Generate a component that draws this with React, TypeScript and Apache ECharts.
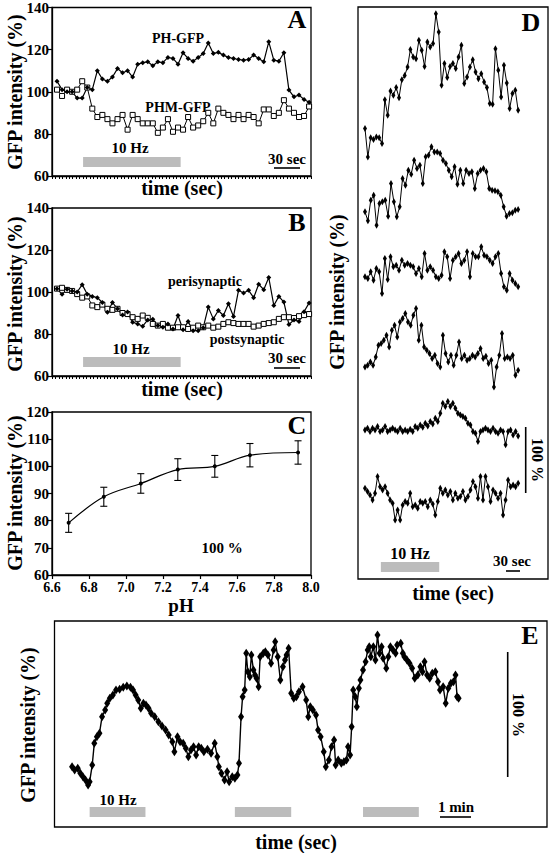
import React, { useEffect, useRef } from "react";
import * as echarts from "echarts";

const FONT = '"Liberation Serif", "DejaVu Serif", "Times New Roman", serif';

// ---------- Panel A (GFP intensity %, sampled every ~5.84 s) ----------
const phGfp = [105, 101, 100, 100, 97, 97, 102, 101, 110, 106, 105, 107, 111, 109, 110, 107, 113, 113.8, 114.2, 112.3, 114.2, 113.8, 116.3, 115.8, 113.1, 118.5, 115.8, 114.5, 116.3, 118.2, 123.2, 118.2, 118.7, 117.4, 116.3, 115.8, 115.3, 115, 115.3, 117.4, 115.8, 114.2, 123.7, 115, 114.5, 118.5, 100.8, 97.6, 98.4, 96.3, 95];
const phmGfp = [101, 98, 101, 100, 101, 105, 102, 92, 88, 89, 87, 85, 87, 89, 82, 89, 87, 85, 85, 85, 80.5, 83, 87, 81, 83, 82, 88, 83, 84, 86, 90, 85, 92, 90, 89, 87, 89, 87, 89, 88, 85, 91.6, 91.6, 88.5, 90, 96, 92, 90, 88, 88.5, 93];

// ---------- Panel B ----------
const perisynaptic = [101.6, 98.9, 101.3, 100.5, 100, 103.5, 98.9, 97.9, 97.3, 95, 90.4, 95, 92, 89, 90.5, 85.6, 84.8, 83.7, 86.7, 87, 84, 83.2, 84.8, 82.4, 88.8, 82, 85.9, 81.6, 81.6, 83, 92.8, 87.2, 91.2, 88.8, 94.4, 88.3, 100.8, 99.5, 100.8, 97.3, 103.7, 101.1, 106.9, 93.6, 97.9, 95.2, 84.5, 86.7, 86, 90.6, 94.8];
const postsynaptic = [101.6, 102, 101, 100.5, 99, 97.3, 97.9, 93.6, 92.8, 94, 92, 91.5, 92, 90, 89.5, 88, 87.2, 88.8, 87.7, 84.8, 84, 84.8, 83, 83, 83.2, 83.2, 82.4, 83, 84, 83.2, 84, 83, 83.5, 84.8, 85.6, 85.2, 84.8, 84.8, 84.8, 83.5, 84, 84.8, 85.2, 85.6, 87.2, 88, 88, 87.6, 88.5, 89, 89.5];
const SAMPLE_START_AB = 5.8;
const SAMPLE_STEP_AB = 5.84;
const stimAB = [36, 149]; // seconds
const stimBarAB = [64.3, 69]; // y extent of grey bar

// ---------- Panel C ----------
const cPH = [6.69, 6.88, 7.08, 7.28, 7.48, 7.67, 7.93];
const cMean = [79.2, 88.8, 93.7, 98.8, 100, 104.1, 105.1];
const cErr = [3.5, 3.5, 3.6, 4, 4, 4.3, 4.3];

// ---------- Panel D (six traces, % with baseline 100) ----------
const dTrace1 = [117.7, 74.7, 104, 101, 105, 104, 95, 161.6, 137.9, 174.7, 168.2, 179.8, 164.6, 191.9, 198, 211, 237.4, 226.3, 223.7, 251.5, 236.4, 212, 249, 241.4, 246.5, 291.9, 264.1, 183.3, 216.2, 195, 212, 216.2, 208.6, 226.3, 244, 185.9, 196, 211, 222.2, 203.5, 193.4, 201, 188.4, 179.8, 155.6, 154.5, 238.9, 206, 165.7, 213.6, 186.9, 148, 170.7, 175.8, 145.5];
const dTrace2 = [102.5, 88.9, 120.2, 127.8, 82.3, 115.2, 117.7, 120.2, 96, 145.5, 117.7, 95, 110.1, 153, 142.9, 165.7, 159.6, 180.8, 168.2, 173.2, 145.5, 185.9, 188.4, 201, 193.4, 193.4, 190.9, 180.8, 175.8, 165.7, 155.6, 170.7, 144.4, 165.7, 145.5, 165.7, 160.6, 163.1, 137.9, 160.6, 165.7, 168.2, 163.1, 137.9, 135.4, 134.3, 132.8, 127.8, 110.1, 96, 100, 101, 105, 106];
const dTrace3 = [100, 97.5, 107.6, 94.9, 112.6, 107.6, 74.7, 127.8, 96, 130.3, 115.2, 117.7, 110.1, 125.3, 117.7, 120.2, 117.7, 115.2, 105, 112.6, 100, 135.4, 110.1, 115.2, 110.1, 100, 97.5, 102.5, 137.9, 130.3, 97.5, 125.3, 130.3, 135.4, 120.2, 125.3, 137.9, 100, 135.4, 130.3, 130.3, 145.5, 132.8, 130.3, 125.3, 120.2, 130.3, 135.4, 105, 84.8, 79.8, 105, 94.9, 89.9, 84.8];
const dTrace4 = [97.5, 100, 105, 100, 112.6, 130.3, 132.8, 137.9, 145.5, 127.8, 153, 160.6, 142.9, 165.7, 170.7, 178.3, 165.7, 160.6, 175.8, 185.9, 137.9, 160.6, 127.8, 122.7, 117.7, 110.1, 115.2, 102.5, 97.5, 145.5, 117.7, 105, 115.2, 100, 115.2, 135.4, 110.1, 115.2, 107.6, 110.1, 115.2, 112.6, 117.7, 125.3, 110.1, 113.6, 102.5, 107.6, 67.2, 97.5, 115.2, 148, 110.1, 112.6, 110.1, 115.2, 84.8, 92.4];
const dTrace5 = [100, 102.5, 97.5, 102.5, 100, 105, 97.5, 100, 105, 97.5, 100, 102.5, 100, 97.5, 102.5, 97.5, 100, 97.5, 101, 97.5, 105, 102.5, 107.6, 104, 110.1, 106, 112.6, 109, 117.7, 112.6, 125.3, 140.4, 135.4, 142.9, 135.4, 140.4, 132.8, 125.3, 122.7, 120.2, 117.7, 110.1, 107.6, 97.5, 94.9, 82.3, 97.5, 100, 102.5, 100, 97.5, 102.5, 97.5, 94.9, 100, 97.5, 77.3, 97.5, 100, 92.4, 97.5, 90.9];
const dTrace6 = [102.5, 97.5, 92.4, 84.8, 94.9, 120.2, 105, 100, 105, 94.9, 84.8, 79.8, 54.5, 69.7, 54.5, 77.3, 82.3, 79.8, 94.9, 74.7, 77.3, 72.2, 82.3, 79.8, 82.3, 74.7, 84.8, 78.8, 62.1, 82.3, 102.5, 94.9, 100, 92.4, 97.5, 84.8, 94.9, 87.4, 89.9, 97.5, 84.8, 89.9, 100, 112.6, 105, 87.4, 120.2, 84.8, 120.2, 105, 82.3, 100, 94.9, 87.4, 94.9, 62.1, 84.8, 115.2, 105, 107.6, 105, 110.1];
const dTraces = [dTrace1, dTrace2, dTrace3, dTrace4, dTrace5, dTrace6];
const dBaselines = [665, 554, 458, 324, 226, 135]; // vertical stacking positions (axis units)
const D_T_START = 15;
const D_T_END = 343;
const stimD = [49, 174];
const stimBarD = [10.6, 25.8];

// ---------- Panel E ----------
const eTime = [34, 39, 45, 50, 55, 60, 65, 68, 73, 77, 82, 87, 92, 98, 102, 107, 113, 119, 126, 133, 140, 147, 152, 157, 162, 167, 172, 177, 182, 187, 194, 201, 208, 215, 221, 228, 232, 238, 243, 249, 254, 259, 264, 269, 274, 279, 284, 289, 296, 303, 310, 315, 318, 323, 329, 334, 338, 344, 349, 354, 357, 361, 364, 368, 371, 374, 378, 381, 385, 388, 391, 395, 398, 404, 408, 413, 419, 424, 427, 432, 437, 442, 446, 449, 453, 458, 463, 468, 473, 480, 487, 491, 495, 500, 506, 510, 515, 521, 525, 531, 536, 541, 544, 549, 555, 560, 565, 568, 572, 575, 578, 582, 585, 589, 592, 597, 602, 606, 609, 612, 617, 621, 625, 629, 633, 636, 642, 646, 650, 655, 660, 663, 670, 674, 677, 682, 687, 692, 697, 703, 708, 712, 716, 721, 726, 731, 737, 742, 746, 752, 757, 762, 767, 772, 776, 779, 782];
const eValue = [100, 97.3, 98.7, 94.7, 92, 89.3, 85.3, 88, 101.3, 118.7, 124, 126.7, 140, 145.3, 150.7, 154.7, 157.3, 161.3, 161.9, 163.5, 164.5, 163.5, 161.3, 157.3, 153.3, 146.7, 150.7, 149.3, 146.7, 142.7, 140, 136, 132.5, 129.3, 125.3, 120, 112, 124, 120, 118.7, 114.7, 108, 113.3, 116, 109.3, 116, 114.7, 112, 113.9, 110.7, 118.7, 108, 100, 94.7, 89.3, 96, 88, 92, 90.7, 93.3, 102.7, 140, 156, 161.3, 190.7, 176, 172, 189.3, 177.3, 173.3, 170.7, 164, 188, 190.7, 192, 189.3, 182.7, 193.3, 200, 188, 169.3, 180, 185.3, 189.3, 194.7, 158.7, 154.7, 156, 160, 164, 153.3, 140, 148, 145.3, 141.3, 129.3, 124, 112, 100, 105.3, 116, 121.3, 101.3, 105.3, 102.7, 104, 105.3, 116, 109.3, 132, 161.3, 156, 148, 162.7, 169.3, 177.3, 184, 193.3, 196, 188, 196, 185.3, 205.3, 190.7, 196, 186.7, 178.7, 188, 196, 193.3, 190.7, 197.3, 198.7, 190.7, 188, 185.3, 182.7, 178.7, 170.7, 173.3, 180, 176, 184, 173.3, 170.7, 174.7, 176, 168, 161.3, 164, 150.7, 162.7, 166.7, 168, 173.3, 156, 154.7];
const stimE = [[68, 176], [349, 458], [597, 705]];
const stimBarE = [59.8, 67.8];

const GREY = "#bcbcbc";

function bold(size: number) {
  return { fontFamily: FONT, fontWeight: "bold" as const, fontSize: size, color: "#000" };
}

function txt(text: string, x: number, y: number, size: number, rotation = 0, align = "center") {
  return {
    type: "text",
    x,
    y,
    rotation,
    silent: true,
    style: {
      text,
      fill: "#000",
      fontFamily: FONT,
      fontWeight: "bold",
      fontSize: size,
      textAlign: align,
      textVerticalAlign: "middle",
      align,
      verticalAlign: "middle",
    },
  };
}

function ln(x1: number, y1: number, x2: number, y2: number, w = 1.6) {
  return { type: "line", silent: true, shape: { x1, y1, x2, y2 }, style: { stroke: "#000", lineWidth: w } };
}

function timeAxisAB(gridIndex: number) {
  return {
    gridIndex,
    type: "value",
    min: 0,
    max: 300,
    interval: 4,
    axisLine: { show: true, lineStyle: { color: "#000", width: 1.3 } },
    axisTick: { show: true, length: 3, lineStyle: { color: "#000", width: 1 } },
    axisLabel: { show: false },
    splitLine: { show: false },
  };
}

function pctAxis(gridIndex: number, min: number, max: number, interval: number) {
  return {
    gridIndex,
    type: "value",
    min,
    max,
    interval,
    axisLine: { show: true, lineStyle: { color: "#000", width: 1.3 } },
    axisTick: { show: true, length: 4, lineStyle: { color: "#000", width: 1.2 } },
    axisLabel: { ...bold(15), margin: 3 },
    splitLine: { show: false },
  };
}

function hiddenAxis(gridIndex: number, min: number, max: number) {
  return { gridIndex, type: "value", min, max, show: false, splitLine: { show: false } };
}

const boxGrid = (left: number, top: number, width: number, height: number) => ({
  left,
  top,
  width,
  height,
  show: true,
  borderColor: "#000",
  borderWidth: 1.3,
  backgroundColor: "transparent",
});

function App() {
  const ref = useRef<HTMLDivElement>(null);

  useEffect(() => {
    if (!ref.current) return;
    const chart = echarts.init(ref.current, undefined, { renderer: "svg" });

    const tAB = phGfp.map((_, i) => SAMPLE_START_AB + SAMPLE_STEP_AB * i);
    const pair = (arr: number[]) => arr.map((v, i) => [tAB[i], v]);

    const greyArea = (x0: number, x1: number, y0: number, y1: number) => [
      { xAxis: x0, yAxis: y0 },
      { xAxis: x1, yAxis: y1 },
    ];

    const dSeries = dTraces.map((tr, k) => {
      const n = tr.length;
      return {
        type: "line",
        xAxisIndex: 3,
        yAxisIndex: 3,
        data: tr.map((v, i) => [D_T_START + ((D_T_END - D_T_START) * i) / (n - 1), dBaselines[k] + v - 100]),
        symbol: "diamond",
        symbolSize: [4, 7],
        itemStyle: { color: "#000" },
        lineStyle: { color: "#000", width: 1 },
        silent: true,
        markArea:
          k === 0
            ? {
                silent: true,
                itemStyle: { color: GREY, opacity: 1 },
                label: { show: false },
                data: [greyArea(stimD[0], stimD[1], stimBarD[0], stimBarD[1])],
              }
            : undefined,
      };
    });

    const option: any = {
      animation: false,
      backgroundColor: "#fff",
      grid: [
        boxGrid(52, 7, 259, 169),
        boxGrid(52, 208, 259, 168),
        boxGrid(52, 412, 259, 163),
        boxGrid(358, 7, 190, 572),
        boxGrid(54.5, 621, 492.5, 206),
      ],
      xAxis: [
        timeAxisAB(0),
        timeAxisAB(1),
        {
          gridIndex: 2,
          type: "value",
          min: 6.6,
          max: 8.0,
          interval: 0.2,
          axisLine: { show: true, lineStyle: { color: "#000", width: 1.3 } },
          axisTick: { show: true, length: 4, lineStyle: { color: "#000", width: 1.2 } },
          axisLabel: { ...bold(14), margin: 5, formatter: (v: number) => v.toFixed(1) },
          splitLine: { show: false },
        },
        hiddenAxis(3, 0, 407),
        hiddenAxis(4, 0, 953),
      ],
      yAxis: [
        pctAxis(0, 60, 140, 20),
        pctAxis(1, 60, 140, 20),
        pctAxis(2, 60, 120, 10),
        hiddenAxis(3, 0, 867),
        hiddenAxis(4, 51.8, 216.5),
      ],
      series: [
        {
          type: "line",
          xAxisIndex: 0,
          yAxisIndex: 0,
          data: pair(phmGfp),
          symbol: "rect",
          symbolSize: 5,
          itemStyle: { color: "#fff", borderColor: "#000", borderWidth: 1 },
          lineStyle: { color: "#000", width: 1 },
          silent: true,
        },
        {
          type: "line",
          xAxisIndex: 0,
          yAxisIndex: 0,
          data: pair(phGfp),
          symbol: "diamond",
          symbolSize: 5,
          itemStyle: { color: "#000" },
          lineStyle: { color: "#000", width: 1.2 },
          silent: true,
          markArea: {
            silent: true,
            itemStyle: { color: GREY, opacity: 1 },
            label: { show: false },
            data: [greyArea(stimAB[0], stimAB[1], stimBarAB[0], stimBarAB[1])],
          },
        },
        {
          type: "line",
          xAxisIndex: 1,
          yAxisIndex: 1,
          data: pair(postsynaptic),
          symbol: "rect",
          symbolSize: 5,
          itemStyle: { color: "#fff", borderColor: "#000", borderWidth: 1 },
          lineStyle: { color: "#000", width: 1 },
          silent: true,
        },
        {
          type: "line",
          xAxisIndex: 1,
          yAxisIndex: 1,
          data: pair(perisynaptic),
          symbol: "diamond",
          symbolSize: 5,
          itemStyle: { color: "#000" },
          lineStyle: { color: "#000", width: 1.2 },
          silent: true,
          markArea: {
            silent: true,
            itemStyle: { color: GREY, opacity: 1 },
            label: { show: false },
            data: [greyArea(stimAB[0], stimAB[1], stimBarAB[0], stimBarAB[1])],
          },
        },
        {
          type: "line",
          xAxisIndex: 2,
          yAxisIndex: 2,
          data: cPH.map((p, i) => [p, cMean[i]]),
          smooth: 0.35,
          symbol: "circle",
          symbolSize: 4,
          itemStyle: { color: "#000" },
          lineStyle: { color: "#000", width: 1.2 },
          silent: true,
        },
        {
          type: "custom",
          xAxisIndex: 2,
          yAxisIndex: 2,
          silent: true,
          data: cPH.map((p, i) => [p, cMean[i], cErr[i]]),
          renderItem: (_params: any, api: any) => {
            const x = api.value(0);
            const m = api.value(1);
            const e = api.value(2);
            const top = api.coord([x, m + e]);
            const bot = api.coord([x, m - e]);
            const cap = 3.5;
            const st = { stroke: "#000", lineWidth: 1.1 };
            return {
              type: "group",
              children: [
                { type: "line", shape: { x1: top[0], y1: top[1], x2: bot[0], y2: bot[1] }, style: st },
                { type: "line", shape: { x1: top[0] - cap, y1: top[1], x2: top[0] + cap, y2: top[1] }, style: st },
                { type: "line", shape: { x1: bot[0] - cap, y1: bot[1], x2: bot[0] + cap, y2: bot[1] }, style: st },
              ],
            };
          },
        },
        ...dSeries,
        {
          type: "line",
          xAxisIndex: 4,
          yAxisIndex: 4,
          data: eTime.map((t, i) => [t, eValue[i]]),
          symbol: "diamond",
          symbolSize: [6, 9],
          itemStyle: { color: "#000" },
          lineStyle: { color: "#000", width: 1.4 },
          silent: true,
          markArea: {
            silent: true,
            itemStyle: { color: GREY, opacity: 1 },
            label: { show: false },
            data: stimE.map((s) => greyArea(s[0], s[1], stimBarE[0], stimBarE[1])),
          },
        },
      ],
      graphic: [
        // Panel letters
        txt("A", 297, 19, 26),
        txt("B", 297, 222, 26),
        txt("C", 297, 425, 26),
        txt("D", 531, 22, 26),
        txt("E", 530, 635, 26),
        // Panel A
        txt("GFP intensity (%)", 15, 92, 20, Math.PI / 2),
        txt("PH-GFP", 178, 38, 14),
        txt("PHM-GFP", 178, 107, 14),
        txt("10 Hz", 130, 148, 15),
        txt("30 sec", 287, 159, 15),
        ln(274, 168, 300, 168),
        txt("time (sec)", 182, 188, 20),
        // Panel B
        txt("GFP intensity (%)", 15, 294, 20, Math.PI / 2),
        txt("perisynaptic", 205, 281, 14),
        txt("postsynaptic", 247, 339, 14),
        txt("10 Hz", 131, 349, 15),
        txt("30 sec", 287, 358, 15),
        ln(274, 368, 300, 368),
        txt("time (sec)", 182, 389, 20),
        // Panel C
        txt("GFP intensity (%)", 15, 493, 20, Math.PI / 2),
        txt("100 %", 222, 548, 15),
        txt("pH", 181, 605, 19),
        // Panel D
        txt("GFP intensity (%)", 337, 292, 20, Math.PI / 2),
        txt("10 Hz", 410, 553, 16),
        txt("30 sec", 512, 561, 15),
        ln(506, 571, 520, 571),
        ln(525.7, 427, 525.7, 493),
        txt("100 %", 537, 460, 16, -Math.PI / 2),
        txt("time (sec)", 453, 593, 20),
        // Panel E
        txt("GFP intensity (%)", 28, 725, 20, Math.PI / 2),
        txt("10 Hz", 118, 800, 15),
        txt("1 min", 456, 807, 15),
        ln(440, 817, 471, 817),
        ln(507.7, 652, 507.7, 777),
        txt("100 %", 518, 715, 16, -Math.PI / 2),
        txt("time (sec)", 296, 842, 20),
      ],
    };

    chart.setOption(option);
    return () => {
      chart.dispose();
    };
  }, []);

  return (
    <div
      ref={ref}
      style={{ position: "absolute", left: 0, top: 0, width: 551, height: 853, background: "#fff" }}
    />
  );
}

export default App;
